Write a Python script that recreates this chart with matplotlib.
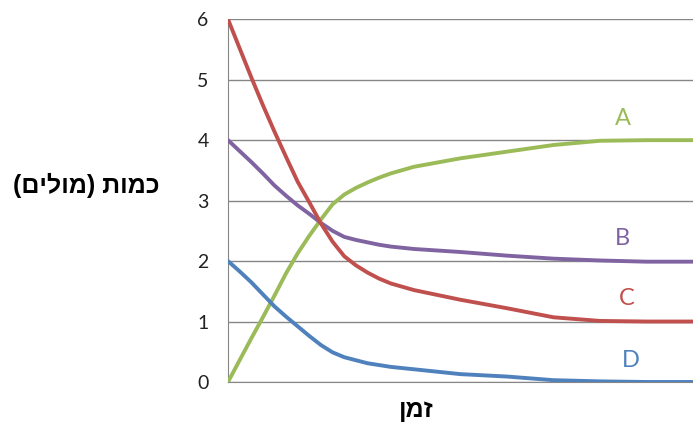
import matplotlib
matplotlib.use("Agg")
from matplotlib import pyplot as plt

# time points (arbitrary units) and amounts
t = [0, 0.25, 0.5, 0.75, 1, 1.25, 1.5, 1.75, 2, 2.25, 2.5, 2.75, 3, 3.25, 3.5, 4, 5, 6, 7, 8, 9, 10]
a_vals = [0, 0.36, 0.72, 1.07, 1.43, 1.80, 2.13, 2.42, 2.69, 2.94, 3.10, 3.21, 3.30, 3.38, 3.45, 3.56, 3.70, 3.81, 3.92, 3.99, 4.0, 4.0]
b_vals = [4.0, 3.82, 3.64, 3.45, 3.25, 3.08, 2.92, 2.78, 2.63, 2.50, 2.40, 2.35, 2.31, 2.27, 2.24, 2.20, 2.15, 2.09, 2.04, 2.01, 1.99, 1.99]
c_vals = [6.0, 5.52, 5.04, 4.58, 4.14, 3.72, 3.31, 2.97, 2.62, 2.32, 2.08, 1.93, 1.81, 1.71, 1.63, 1.52, 1.36, 1.22, 1.07, 1.01, 1.0, 1.0]
d_vals = [2.0, 1.83, 1.65, 1.45, 1.25, 1.08, 0.92, 0.76, 0.61, 0.49, 0.41, 0.36, 0.31, 0.28, 0.25, 0.21, 0.13, 0.09, 0.03, 0.01, 0.0, 0.0]

names = ["A", "B", "C", "D"]
colors = ["#9BBB59", "#8064A2", "#C0504D", "#4F81BD"]
label_pos = [(8.49, 4.36), (8.49, 2.38), (8.58, 1.38), (8.67, 0.36)]

# hebrew strings given in visual order (matplotlib draws left to right)
ylab = "(םילומ) תומכ"   # כמות (מולים)
xlab = "ןמז"            # זמן
heb_font = ["Liberation Sans", "DejaVu Sans"]

fig = plt.figure(figsize=(6.93, 4.28), dpi=100)
ax = fig.add_axes([0.329, 0.1075, 0.671, 0.8475])

for vals, col in zip([a_vals, b_vals, c_vals, d_vals], colors):
    ax.plot(t, vals, color=col, lw=2.8, solid_capstyle="round",
            solid_joinstyle="round", zorder=3)

for n, col, (x, y) in zip(names, colors, label_pos):
    ax.text(x, y, n, color=col, fontsize=17, ha="center", va="center",
            family=["Lato", "DejaVu Sans"])

ax.set_xlim(0, 10)
ax.set_ylim(0, 6)
ax.set_yticks(range(0, 7))
ax.set_xticks([])
ax.grid(axis="y", color="#868686", lw=1)
ax.set_axisbelow(True)
for s in ["top", "right"]:
    ax.spines[s].set_visible(False)
for s in ["left", "bottom"]:
    ax.spines[s].set_color("#868686")
ax.tick_params(axis="y", length=0, pad=14, labelsize=14, labelcolor="#222222")
for lab in ax.get_yticklabels():
    lab.set_family(["Lato", "DejaVu Sans"])

fig.text(86 / 693, 1 - 185 / 428, ylab, fontsize=18, fontweight="bold",
         ha="center", va="center", family=heb_font)
fig.text(416 / 693, 1 - 410 / 428, xlab, fontsize=18, fontweight="bold",
         ha="center", va="center", family=heb_font)

fig.savefig("out.png", dpi=100)
